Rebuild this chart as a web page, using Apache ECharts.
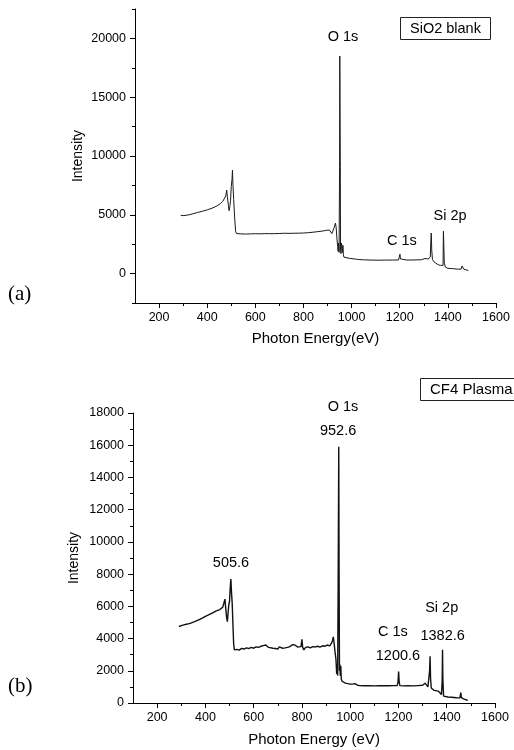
<!DOCTYPE html>
<html>
<head>
<meta charset="utf-8">
<script src="https://cdn.jsdelivr.net/npm/echarts@6/dist/echarts.min.js"></script>
<style>
html,body{margin:0;padding:0;background:#fff;}
#chart{width:514px;height:750px;}
</style>
</head>
<body>
<div id="chart"></div>
<script>
// ---------- Data ----------
const xTicks = [200, 400, 600, 800, 1000, 1200, 1400, 1600];
const xMinorTicks = [300, 500, 700, 900, 1100, 1300, 1500];
const topYTicks = [0, 5000, 10000, 15000, 20000];
const topYMinorTicks = [-2500, 2500, 7500, 12500, 17500, 22500];
const botYTicks = [0, 2000, 4000, 6000, 8000, 10000, 12000, 14000, 16000, 18000];
const botYMinorTicks = [1000, 3000, 5000, 7000, 9000, 11000, 13000, 15000, 17000];

// (a) SiO2 blank
const topEnergy = [290,300,320,340,360,380,400,420,440,455,465,472,477,481,484,488,491,494,497,500,503,505,507,510,514,518,522,540,560,580,600,620,640,660,680,700,720,740,760,780,800,820,840,860,880,895,903,908,913,918,922,928,933,936,939,942,944,946,948,950,951,952,953,954,956,958,960,962,964,966,968,975,990,1010,1020,1025,1030,1050,1080,1110,1140,1170,1195,1199,1201,1203,1206,1230,1260,1290,1305,1312,1318,1324,1327,1329,1331,1333,1336,1342,1350,1360,1370,1377,1380,1381.5,1383,1385,1390,1400,1420,1440,1455,1459,1462,1466,1475,1485];
const topIntensity = [4950,4930,4980,5080,5200,5300,5420,5560,5750,5950,6150,6300,6600,7100,6500,5800,5350,5700,6200,7400,8000,8800,7600,6300,4800,3600,3400,3380,3360,3380,3390,3380,3400,3390,3400,3410,3430,3420,3430,3440,3450,3480,3520,3570,3620,3680,3800,3700,3550,3400,3450,3950,4300,3900,3000,2300,1900,2600,1800,9000,18500,18400,9500,2000,1700,2600,2700,1800,2400,1600,1400,1320,1300,1250,1220,1300,1200,1170,1150,1140,1150,1150,1160,1300,1650,1250,1150,1150,1160,1180,1280,1400,1250,1100,1400,2600,3450,2000,1200,1000,850,750,700,560,700,3600,2600,900,550,450,420,380,380,650,500,380,330,250];

// (b) CF4 Plasma
const botEnergy = [290,293,296,300,305,310,318,325,332,340,348,355,362,370,378,385,392,400,408,415,422,430,438,445,452,460,466,472,477,481,484,488,491,494,497,500,503,505.6,508,511,514,517,520,530,540,550,560,570,580,590,600,610,620,630,640,650,655,662,670,680,690,700,706,712,720,730,740,750,760,770,775,782,790,796,800,803,808,815,825,835,845,855,865,875,885,895,905,915,922,927,930,933,937,941,944,946,948,950,952.6,954,955.5,957,959,961,963,966,972,980,990,1000,1010,1020,1024,1030,1040,1060,1080,1100,1120,1140,1160,1180,1195,1198,1200.6,1203,1206,1220,1240,1260,1280,1300,1310,1316,1322,1326,1329,1331,1333,1336,1342,1348,1355,1365,1372,1378,1381,1382.6,1384,1387,1395,1405,1420,1440,1455,1458,1461,1470,1480,1487];
const botIntensity = [4750,4850,4700,4800,4720,4850,4800,4900,4860,4960,4920,5050,5000,5150,5100,5250,5230,5380,5350,5480,5470,5600,5580,5720,5700,5800,5760,5950,6050,6450,5900,5300,5050,5600,6100,6300,7200,7700,6900,6200,4900,3700,3300,3330,3280,3390,3350,3420,3380,3450,3400,3480,3450,3520,3560,3600,3500,3450,3330,3400,3380,3350,3480,3360,3400,3420,3450,3500,3620,3600,3680,3480,3420,3500,3950,3450,3300,3450,3480,3420,3500,3480,3520,3470,3550,3520,3600,3550,3700,3900,4100,3750,3200,2700,1800,2400,1700,7000,15900,8000,2000,2400,1700,2300,1500,1350,1250,1230,1200,1180,1170,1200,1280,1100,1080,1070,1080,1060,1080,1070,1070,1080,1090,1300,1950,1300,1080,1060,1070,1060,1080,1100,1230,1180,1000,1050,2000,2900,1500,930,880,780,750,740,620,520,1300,3300,1500,430,390,370,360,330,320,650,330,260,200,160];

// Peak annotations: [text, energy, intensity] in data coordinates
const topNotes = [['O 1s', 964, 20100], ['C 1s', 1209, 2770], ['Si 2p', 1409, 4900]];
const botNotes = [['O 1s', 970, 18370], ['952.6', 950, 16870], ['505.6', 506, 8710], ['Si 2p', 1379, 5900], ['C 1s', 1177, 4435], ['1382.6', 1383, 4170], ['1200.6', 1198, 2930]];

// ---------- Chart ----------
const FONT = 'Liberation Sans, Arial, Helvetica, sans-serif';
const chart = echarts.init(document.getElementById('chart'), null, {renderer: 'canvas'});

function zip(xs, ys) { return xs.map((x, i) => [x, ys[i]]); }
const plain = v => String(v);

function mainX(grid, name, gap) {
  return {
    type: 'value', gridIndex: grid, min: 100, max: 1600,
    axisLine: {show: true, onZero: false, lineStyle: {color: '#000', width: 1}},
    axisTick: {show: true, length: 5, customValues: xTicks, lineStyle: {color: '#000'}},
    axisLabel: {customValues: xTicks, formatter: plain, color: '#000', fontSize: 12.5, fontFamily: FONT, margin: 8},
    splitLine: {show: false},
    name: name, nameLocation: 'middle', nameGap: gap, nameMoveOverlap: false,
    nameTextStyle: {color: '#000', fontSize: 15, fontFamily: FONT}
  };
}
function minorX(grid) {
  return {
    type: 'value', gridIndex: grid, min: 100, max: 1600, position: 'bottom',
    axisLine: {show: false, onZero: false},
    axisTick: {show: true, length: 3, customValues: xMinorTicks, lineStyle: {color: '#000'}},
    axisLabel: {show: false}, splitLine: {show: false}
  };
}
function mainY(grid, min, max, ticks, gap) {
  return {
    type: 'value', gridIndex: grid, min: min, max: max,
    axisLine: {show: true, onZero: false, lineStyle: {color: '#000', width: 1}},
    axisTick: {show: true, length: 5, customValues: ticks, lineStyle: {color: '#000'}},
    axisLabel: {customValues: ticks, formatter: plain, color: '#000', fontSize: 12.5, fontFamily: FONT, margin: 9},
    splitLine: {show: false},
    name: 'Intensity', nameLocation: 'middle', nameGap: gap, nameMoveOverlap: false,
    nameTextStyle: {color: '#000', fontSize: 14, fontFamily: FONT}
  };
}
function minorY(grid, min, max, ticks) {
  return {
    type: 'value', gridIndex: grid, min: min, max: max, position: 'left',
    axisLine: {show: false, onZero: false},
    axisTick: {show: true, length: 3, customValues: ticks, lineStyle: {color: '#000'}},
    axisLabel: {show: false}, splitLine: {show: false}
  };
}

const option = {
  backgroundColor: '#fff',
  animation: false,
  title: [
    {text: 'SiO2 blank', left: 400, top: 17, padding: [4, 10], borderColor: '#222', borderWidth: 1,
     textStyle: {fontSize: 14.5, fontWeight: 'normal', color: '#000', fontFamily: FONT}},
    {text: 'CF4 Plasma', left: 420, top: 378, padding: [4, 10], borderColor: '#222', borderWidth: 1,
     textStyle: {fontSize: 15, fontWeight: 'normal', color: '#000', fontFamily: FONT}},
    {text: '(a)', left: 8, top: 284, padding: 0,
     textStyle: {fontSize: 21, fontWeight: 'normal', color: '#000', fontFamily: 'Liberation Serif, Times New Roman, serif'}},
    {text: '(b)', left: 8, top: 676, padding: 0,
     textStyle: {fontSize: 21, fontWeight: 'normal', color: '#000', fontFamily: 'Liberation Serif, Times New Roman, serif'}}
  ],
  grid: [
    {left: 135, top: 9, width: 361, height: 294},
    {left: 133, top: 413, width: 362, height: 290}
  ],
  xAxis: [mainX(0, 'Photon Energy(eV)', 28), minorX(0), mainX(1, 'Photon Energy (eV)', 29), minorX(1)],
  yAxis: [mainY(0, -2500, 22500, topYTicks, 50), minorY(0, -2500, 22500, topYMinorTicks),
          mainY(1, 0, 18000, botYTicks, 52), minorY(1, 0, 18000, botYMinorTicks)],
  series: [
    {type: 'line', xAxisIndex: 0, yAxisIndex: 0, data: zip(topEnergy, topIntensity),
     showSymbol: false, symbol: 'none', lineStyle: {color: '#1a1a1a', width: 1}, z: 3},
    {type: 'line', xAxisIndex: 2, yAxisIndex: 2, data: zip(botEnergy, botIntensity),
     showSymbol: false, symbol: 'none', lineStyle: {color: '#111', width: 1.4}, z: 3}
  ]
};
chart.setOption(option);

function noteGraphics(notes, gridIndex) {
  return notes.map(n => {
    const p = chart.convertToPixel({gridIndex: gridIndex}, [n[1], n[2]]);
    return {type: 'text', x: p[0], y: p[1],
            style: {text: n[0], fill: '#000', font: '14.5px ' + FONT, textAlign: 'center', textVerticalAlign: 'middle'}};
  });
}
chart.setOption({graphic: noteGraphics(topNotes, 0).concat(noteGraphics(botNotes, 1))});
</script>
</body>
</html>
